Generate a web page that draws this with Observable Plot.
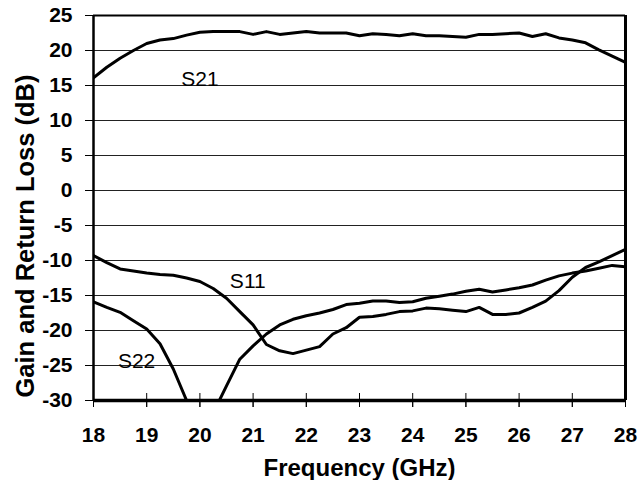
<!DOCTYPE html>
<html><head><meta charset="utf-8">
<script src="https://cdn.jsdelivr.net/npm/d3@7"></script>
<script src="https://cdn.jsdelivr.net/npm/@observablehq/plot@0.6"></script>
<style>body{margin:0;background:#fff}</style>
</head><body><div id="chart"></div>
<script>
const freq = [18,18.25,18.5,18.75,19,19.25,19.5,19.75,20,20.25,20.5,20.75,21,21.25,21.5,21.75,22,22.25,22.5,22.75,23,23.25,23.5,23.75,24,24.25,24.5,24.75,25,25.25,25.5,25.75,26,26.25,26.5,26.75,27,27.25,27.5,27.75,28];
const s21 = [16.1,17.6,18.9,20.0,21.0,21.5,21.7,22.2,22.6,22.7,22.7,22.7,22.3,22.7,22.3,22.5,22.7,22.5,22.5,22.5,22.1,22.4,22.3,22.1,22.4,22.1,22.1,22.0,21.9,22.3,22.3,22.4,22.5,22.0,22.4,21.8,21.5,21.1,20.1,19.2,18.3];
const s11 = [-9.3,-10.3,-11.2,-11.5,-11.8,-12.0,-12.1,-12.5,-13.0,-14.0,-15.4,-17.3,-19.2,-22.0,-22.9,-23.3,-22.8,-22.3,-20.5,-19.6,-18.1,-18.0,-17.7,-17.3,-17.2,-16.8,-16.9,-17.1,-17.3,-16.7,-17.7,-17.7,-17.5,-16.7,-15.8,-14.3,-12.4,-11.0,-10.2,-9.3,-8.4];
const s22 = [-15.9,-16.7,-17.4,-18.6,-19.8,-21.9,-25.5,-30.0,-35.0,-31.8,-27.9,-24.1,-22.2,-20.5,-19.2,-18.4,-17.9,-17.5,-17.0,-16.3,-16.1,-15.8,-15.8,-16.0,-15.9,-15.4,-15.1,-14.8,-14.4,-14.1,-14.5,-14.2,-13.9,-13.5,-12.8,-12.2,-11.8,-11.5,-11.1,-10.7,-10.9];
const seriesNames = ["S21", "S11", "S22"];
const xTicks = [18,19,20,21,22,23,24,25,26,27,28];
const yTicks = [-30,-25,-20,-15,-10,-5,0,5,10,15,20,25];
const labelFreq = [20.0, 20.9, 18.81];
const labelLevel = [15, -13.86, -25.4];
const xTitle = "Frequency (GHz)";
const yTitle = "Gain and Return Loss (dB)";

const seriesValues = [s21, s11, s22];
const rows = [];
seriesNames.forEach((name, i) => freq.forEach((f, j) => rows.push({series: name, f, v: seriesValues[i][j]})));
const labels = seriesNames.map((name, i) => ({name, f: labelFreq[i], v: labelLevel[i]}));

const chart = Plot.plot({
  width: 644, height: 480,
  marginLeft: 93, marginRight: 19, marginTop: 15, marginBottom: 80,
  style: {fontFamily: "'Liberation Sans', Arial, sans-serif", fontSize: "21px", fontWeight: "bold", color: "#000", background: "#fff", overflow: "visible"},
  x: {domain: [18, 28]},
  y: {domain: [-30, 25]},
  marks: [
    Plot.ruleY(yTicks, {stroke: "#222", strokeWidth: 1}),
    Plot.axisY(yTicks, {tickSize: 8, tickPadding: 13, label: null, tickFormat: d => String(d), stroke: "#000"}),
    Plot.axisX(xTicks, {tickSize: 7, tickPadding: 20, label: null, tickFormat: d => String(d), stroke: "#000"}),
    Plot.tickX(xTicks, {x: d => d, stroke: "#000", insetTop: 378, insetBottom: -7}),
    Plot.line(rows, {x: "f", y: "v", z: "series", stroke: "#000", strokeWidth: 3, clip: true}),
    Plot.ruleY([25], {stroke: "#000", strokeWidth: 2}),
    Plot.ruleY([-30], {stroke: "#000", strokeWidth: 3.5}),
    Plot.ruleX([18], {stroke: "#000", strokeWidth: 2.5}),
    Plot.ruleX([28], {stroke: "#000", strokeWidth: 3}),
    Plot.text(labels, {x: "f", y: "v", text: "name", textAnchor: "middle", lineAnchor: "bottom", fontWeight: "normal", fontSize: 21, fill: "#000"}),
    Plot.text([xTitle], {frameAnchor: "bottom", dy: 75, lineAnchor: "bottom", fontSize: 24, fontWeight: "bold", fill: "#000"}),
    Plot.text([yTitle], {frameAnchor: "bottom-left", dx: -60, dy: -3, rotate: -90, textAnchor: "start", lineAnchor: "bottom", fontSize: 25.5, fontWeight: "bold", fill: "#000"})
  ]
});
document.getElementById("chart").appendChild(chart);
</script>
</body></html>
